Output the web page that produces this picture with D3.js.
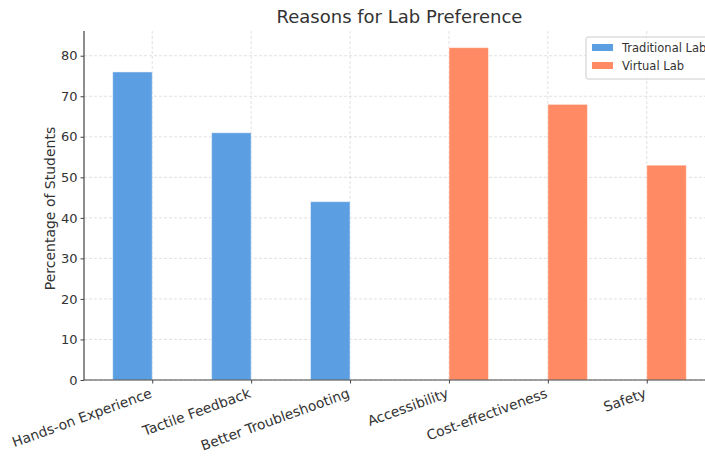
<!DOCTYPE html>
<html><head><meta charset="utf-8">
<script src="https://cdn.jsdelivr.net/npm/d3@7"></script>
<style>
body{margin:0;background:#fff;}
text{font-family:"DejaVu Sans",sans-serif;fill:#333;}
</style></head>
<body><svg id="chart" width="705" height="457"></svg>
<script>
const categories = ["Hands-on Experience","Tactile Feedback","Better Troubleshooting","Accessibility","Cost-effectiveness","Safety"];
const traditional = [76,61,44,0,0,0];
const virtual = [0,0,0,82,68,53];
const seriesNames = ["Traditional Lab","Virtual Lab"];
const colors = ["#5c9ee2","#ff8a63"];
const yTicks = [0,10,20,30,40,50,60,70,80];

const svg = d3.select("#chart");
const mL=84, mR=715, mT=31, mB=380;
const x = d3.scaleLinear().domain([-0.69,5.69]).range([mL,mR]);
const y = d3.scaleLinear().domain([0,86.1]).range([mB,mT]);
const bw = 0.4;

// grid
const g = svg.append("g");
g.selectAll(".hg").data(yTicks).join("line")
 .attr("x1",mL).attr("x2",mR).attr("y1",d=>y(d)).attr("y2",d=>y(d))
 .attr("stroke","#d9d9d9").attr("stroke-width",0.8).attr("stroke-dasharray","3,2");
g.selectAll(".vg").data(categories).join("line")
 .attr("x1",(d,i)=>x(i)).attr("x2",(d,i)=>x(i)).attr("y1",mT).attr("y2",mB)
 .attr("stroke","#d9d9d9").attr("stroke-width",0.8).attr("stroke-dasharray","3,2");

// bars
const series=[traditional,virtual];
series.forEach((vals,s)=>{
  svg.append("g").selectAll("rect").data(vals.map((v,i)=>({v,i})).filter(d=>d.v>0)).join("rect")
   .attr("x",d=>x(d.i + (s===0?-bw:0)))
   .attr("width",x(bw)-x(0))
   .attr("y",d=>y(d.v)).attr("height",d=>y(0)-y(d.v))
   .attr("fill",colors[s]).attr("stroke","rgba(255,255,255,0.5)").attr("stroke-width",1);
});

// axes
const ya = d3.axisLeft(y).tickValues(yTicks).tickSize(3.5).tickPadding(3);
const yg = svg.append("g").attr("transform",`translate(${mL},0)`).call(ya);
yg.select(".domain").attr("d",`M0,${mB}V${mT}`).attr("stroke","#444").attr("stroke-width",1.2);
yg.selectAll(".tick line").attr("stroke","#444");
yg.selectAll("text").attr("font-size",13).style("fill","#333").attr("font-family","DejaVu Sans");

const xa = d3.axisBottom(x).tickValues(d3.range(categories.length)).tickFormat(i=>categories[i]).tickSize(3.5);
const xg = svg.append("g").attr("transform",`translate(0,${mB})`).call(xa);
xg.select(".domain").attr("d",`M${mL},0H${mR}`).attr("stroke","#444").attr("stroke-width",1.2);
xg.selectAll(".tick line").attr("stroke","#444");
xg.selectAll("text").attr("font-size",13.8).style("fill","#333").attr("font-family","DejaVu Sans")
  .attr("text-anchor","end").attr("dy",null).attr("y",null)
  .attr("transform","translate(0,17) rotate(-20)");

// title
svg.append("text").attr("x",(mL+mR)/2).attr("y",23).attr("text-anchor","middle")
  .attr("font-size",18).text("Reasons for Lab Preference");
// y label
svg.append("text").attr("transform",`translate(55,${(mT+mB)/2+3}) rotate(-90)`)
  .attr("text-anchor","middle").attr("font-size",14).text("Percentage of Students");

// legend
const lg = svg.append("g").attr("transform","translate(586,37)");
lg.append("rect").attr("width",130).attr("height",42).attr("rx",2)
  .attr("fill","#fff").attr("fill-opacity",0.8).attr("stroke","#ccc");
seriesNames.forEach((n,i)=>{
  lg.append("rect").attr("x",6).attr("y",7+i*18).attr("width",21).attr("height",7).attr("fill",colors[i]);
  lg.append("text").attr("x",36).attr("y",15+i*18).attr("font-size",11.5).text(n);
});
</script></body></html>
